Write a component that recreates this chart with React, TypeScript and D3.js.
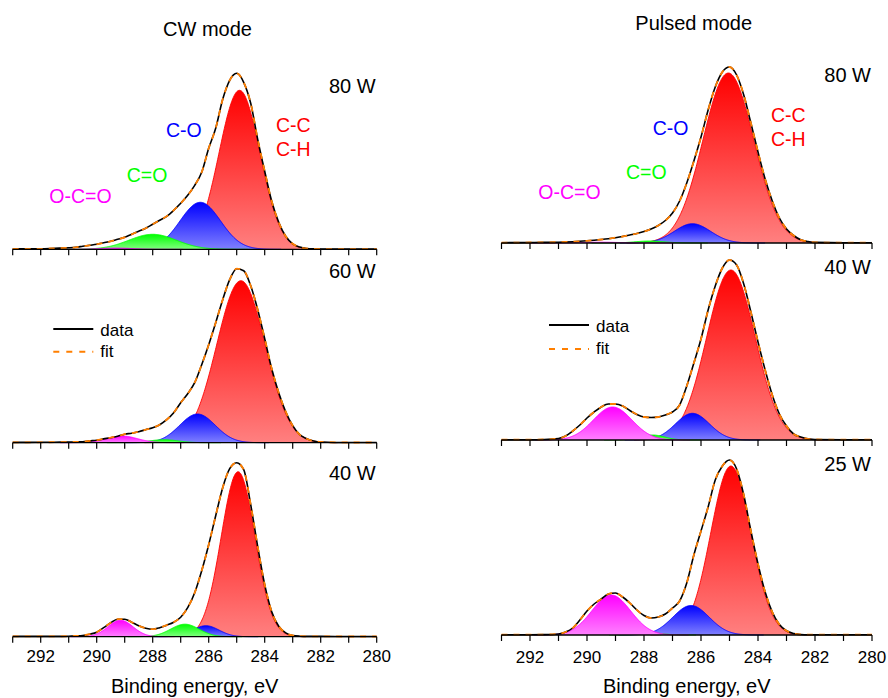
import React from "react";
import * as d3 from "d3";

// ---- Data -----------------------------------------------------------------

// Binding energies (eV) at which the measured C1s envelopes are sampled
const energyGrid = [
  293, 292, 291.5, 291, 290.75, 290.5, 290.25, 290, 289.75, 289.5, 289.25, 289,
  288.75, 288.5, 288.25, 288, 287.75, 287.5, 287.25, 287, 286.75, 286.5, 286.25,
  286, 285.75, 285.5, 285.25, 285, 284.75, 284.5, 284.25, 284, 283.75, 283.5,
  283.25, 283, 282.75, 282.5, 282.25, 282, 281, 280,
];

// Measured envelopes (intensity, a.u.)
const cw80Envelope = [
  0.5, 0.5, 1, 1.5, 2, 3, 4, 5, 6.5, 8, 10, 12, 15, 18, 21, 25, 29, 33, 39, 46,
  54, 64, 77, 101, 121, 150, 169, 176, 167, 146, 110, 78, 48, 27, 13, 5.5, 2.2,
  0.8, 0.4, 0.3, 0.2, 0.2,
];
const cw60Envelope = [
  0.3, 0.4, 0.5, 0.6, 0.8, 1, 1.8, 2.5, 3.8, 5, 6.5, 8.5, 9.5, 11, 13, 15, 18,
  23, 30, 40, 49, 60, 78, 98, 120, 143, 163, 174, 172, 157, 133, 104, 74, 50,
  31, 17, 8, 4, 1.7, 0.7, 0.2, 0.2,
];
const cw40Envelope = [
  0.3, 0.3, 0.3, 0.5, 0.8, 1.2, 2.5, 4.5, 9, 14, 17.5, 17.5, 14.5, 11, 8.5, 7.5,
  9, 11.5, 14.5, 19.5, 29, 44, 66, 92, 121, 149, 168, 174, 167, 132, 90, 52,
  25, 10.5, 3.8, 1.2, 0.5, 0.3, 0.3, 0.3, 0.2, 0.2,
];
const pulsed80Envelope = [
  0.3, 0.5, 0.6, 0.8, 1, 1.3, 1.7, 2.2, 2.8, 3.5, 4.3, 5.3, 6.5, 8, 9.5, 11.5,
  14, 17.5, 22.5, 30, 42, 60, 82, 106, 133, 156, 171, 176, 168, 148, 120, 91,
  64, 42, 25, 14, 7.5, 3.2, 1.5, 0.6, 0.3, 0.3,
];
const pulsed40Envelope = [
  0.3, 0.3, 0.5, 1.5, 4, 9, 15, 22, 28, 33, 36, 36, 34, 29.5, 25.5, 23, 22.5,
  23, 25, 28, 35, 54, 77, 101, 130, 154, 172, 180, 175, 156, 128, 98, 70, 45,
  26, 14, 6, 3, 1.2, 0.5, 0.3, 0.3,
];
const pulsed25Envelope = [
  0.3, 0.3, 0.4, 1, 3, 7, 15, 24, 31, 36, 41, 42, 38, 32, 25, 19.5, 17, 18, 21,
  27, 34, 52, 80, 104, 128, 155, 169, 175, 166, 140, 104, 71, 43, 23, 10.5, 4.2,
  1.5, 0.5, 0.3, 0.3, 0.3, 0.3,
];

// Fitted components: [centre (eV), height (a.u.), FWHM (eV)]
// order: C-C/C-H, C-O, C=O, O-C=O
type Peak = [number, number, number];
const cw80Peaks: Peak[] = [[284.9, 159, 1.72], [286.3, 47, 1.7], [288.0, 15, 2.0], [289.3, 1.2, 1.4]];
const cw60Peaks: Peak[] = [[284.85, 162, 2.03], [286.4, 28.7, 1.5], [287.6, 3, 1.2], [289.1, 6.7, 1.3]];
const cw40Peaks: Peak[] = [[284.95, 165, 1.42], [286.1, 11, 1.1], [286.85, 12.5, 1.2], [289.15, 16.5, 1.05]];
const pulsed80Peaks: Peak[] = [[285.04, 170, 2.1], [286.3, 19.3, 1.5], [287.8, 2, 1.2], [289.5, 0.8, 1.5]];
const pulsed40Peaks: Peak[] = [[284.95, 170, 2.0], [286.3, 26.7, 1.4], [287.7, 5, 1.0], [289.1, 33, 1.6]];
const pulsed25Peaks: Peak[] = [[284.95, 169, 1.66], [286.35, 29.5, 1.5], [287.7, 2, 0.9], [289.15, 40, 1.6]];

const componentNames = ["C-C/C-H", "C-O", "C=O", "O-C=O"];
const componentColors = ["#ff0000", "#0000ff", "#00ff00", "#ff00ff"];
const componentLight = ["#ff8080", "#8080ff", "#80ff80", "#ff80ff"];

const tickValues = [293, 292, 291, 290, 289, 288, 287, 286, 285, 284, 283, 282, 281, 280];
const tickLabels = [292, 290, 288, 286, 284, 282, 280];

const columnTitles = ["CW mode", "Pulsed mode"];
const powerLabels = [["80 W", "60 W", "40 W"], ["80 W", "40 W", "25 W"]];
const envelopes = [
  [cw80Envelope, cw60Envelope, cw40Envelope],
  [pulsed80Envelope, pulsed40Envelope, pulsed25Envelope],
];
const peaks = [
  [cw80Peaks, cw60Peaks, cw40Peaks],
  [pulsed80Peaks, pulsed40Peaks, pulsed25Peaks],
];

// ---- Layout ---------------------------------------------------------------

const WIDTH = 888;
const HEIGHT = 698;
const columns = [
  { x0: 12.7, x1: 376.7, baselines: [249.3, 442.7, 636.7], titleX: 207.5, titleY: 36,
    powerY: [93.3, 277.7, 480], tickY: 662.3, axisTitleY: 693.3,
    legend: { x: 53.3, dataY: 329, fitY: 351.7, dataTextY: 336, fitTextY: 356.7 } },
  { x0: 501.5, x1: 872, baselines: [243, 440, 635], titleX: 693.7, titleY: 30,
    powerY: [81.7, 273.6, 471], tickY: 663.3, axisTitleY: 692.7,
    legend: { x: 549, dataY: 325, fitY: 349, dataTextY: 332, fitTextY: 354 } },
];
const PANEL_SPAN = 180;
const FONT = "Arial, 'Liberation Sans', Helvetica, sans-serif";
const FIT_COLOR = "#ff7f00";

// component annotation placement in the top panels
const annotations = [
  [
    { text: "C-O", comp: 1, x: 166, y: 137.3 },
    { text: "C-C", comp: 0, x: 276, y: 131.7 },
    { text: "C-H", comp: 0, x: 276, y: 155.7 },
    { text: "C=O", comp: 2, x: 126.7, y: 182.3 },
    { text: "O-C=O", comp: 3, x: 49.3, y: 202.7 },
  ],
  [
    { text: "C-O", comp: 1, x: 652.7, y: 135 },
    { text: "C-C", comp: 0, x: 771, y: 122.3 },
    { text: "C-H", comp: 0, x: 771, y: 146.3 },
    { text: "C=O", comp: 2, x: 626, y: 179 },
    { text: "O-C=O", comp: 3, x: 538.3, y: 199.3 },
  ],
];

const gauss = (e: number, [c, h, w]: Peak) => {
  const s = w / 2.3548;
  return h * Math.exp(-0.5 * ((e - c) / s) ** 2);
};

function Panel({ col, row }: { col: number; row: number }) {
  const C = columns[col];
  const base = C.baselines[row];
  const x = d3.scaleLinear().domain([293, 280]).range([C.x0, C.x1]);
  const y = d3.scaleLinear().domain([0, PANEL_SPAN]).range([base, base - PANEL_SPAN]);

  const env = energyGrid.map((e, i) => [e, envelopes[col][row][i]] as [number, number]);
  const line = d3
    .line<[number, number]>()
    .x((d) => x(d[0]))
    .y((d) => y(d[1]))
    .curve(d3.curveMonotoneX);

  const comps = peaks[col][row].map((p, k) => {
    const s = p[2] / 2.3548;
    const lo = Math.max(280, p[0] - 4 * s);
    const hi = Math.min(293, p[0] + 4 * s);
    const es = d3.range(hi, lo, -0.02).concat([lo]);
    const area = d3
      .area<number>()
      .x((e) => x(e))
      .y0(y(0))
      .y1((e) => y(gauss(e, p)))
      .curve(d3.curveLinear);
    const top = d3
      .line<number>()
      .x((e) => x(e))
      .y((e) => y(gauss(e, p)));
    return { k, fill: area(es) || "", edge: top(es) || "" };
  });

  const gid = (k: number) => `grad-${col}-${row}-${k}`;

  return (
    <g>
      <defs>
        {comps.map(({ k }) => (
          <linearGradient key={k} id={gid(k)} x1="0" y1="0" x2="0" y2="1">
            <stop offset="0" stopColor={componentColors[k]} />
            <stop offset="1" stopColor={componentLight[k]} />
          </linearGradient>
        ))}
      </defs>
      {comps.map(({ k, fill, edge }) => (
        <g key={k}>
          <path d={fill} fill={`url(#${gid(k)})`} stroke="none" />
          <path d={edge} fill="none" stroke={componentColors[k]} strokeWidth={0.9} />
        </g>
      ))}
      {/* measured data and fitted envelope */}
      <path d={line(env) || ""} fill="none" stroke="#000" strokeWidth={1.6} />
      <path
        d={line(env) || ""}
        fill="none"
        stroke={FIT_COLOR}
        strokeWidth={1.8}
        strokeDasharray="6,6"
      />
      {/* axis */}
      <line x1={x(293)} x2={x(280)} y1={base} y2={base} stroke="#000" strokeWidth={1.3} />
      {tickValues.map((t) => (
        <line key={t} x1={x(t)} x2={x(t)} y1={base} y2={base + 6} stroke="#000" strokeWidth={1.2} />
      ))}
      {row === 2 &&
        tickLabels.map((t) => (
          <text key={t} x={x(t)} y={C.tickY} fontSize={17} textAnchor="middle" fontFamily={FONT} fill="#000">
            {t}
          </text>
        ))}
      {row === 2 && (
        <text x={(C.x0 + C.x1) / 2} y={C.axisTitleY} fontSize={20} textAnchor="middle" fontFamily={FONT} fill="#000">
          Binding energy, eV
        </text>
      )}
      <text x={C.x1 - 1} y={C.powerY[row]} fontSize={20} textAnchor="end" fontFamily={FONT} fill="#000">
        {powerLabels[col][row]}
      </text>
    </g>
  );
}

export default function App() {
  return (
    <svg
      width={WIDTH}
      height={HEIGHT}
      viewBox={`0 0 ${WIDTH} ${HEIGHT}`}
      style={{ position: "absolute", left: 0, top: 0, background: "#fff" }}
    >
      <rect width={WIDTH} height={HEIGHT} fill="#fff" />
      {columns.map((C, col) => (
        <g key={col}>
          <text x={C.titleX} y={C.titleY} fontSize={20} textAnchor="middle" fontFamily={FONT} fill="#000">
            {columnTitles[col]}
          </text>
          {[0, 1, 2].map((row) => (
            <Panel key={row} col={col} row={row} />
          ))}
          {annotations[col].map((a, i) => (
            <text key={i} x={a.x} y={a.y} fontSize={19.5} fontFamily={FONT} fill={componentColors[a.comp]}>
              {a.text}
            </text>
          ))}
          <g fontFamily={FONT} fontSize={17} fill="#000">
            <line x1={C.legend.x} x2={C.legend.x + 40} y1={C.legend.dataY} y2={C.legend.dataY} stroke="#000" strokeWidth={2} />
            <text x={C.legend.x + 47} y={C.legend.dataTextY}>data</text>
            <line
              x1={C.legend.x}
              x2={C.legend.x + 40}
              y1={C.legend.fitY}
              y2={C.legend.fitY}
              stroke={FIT_COLOR}
              strokeWidth={2}
              strokeDasharray="6,7"
            />
            <text x={C.legend.x + 47} y={C.legend.fitTextY}>fit</text>
          </g>
        </g>
      ))}
    </svg>
  );
}
